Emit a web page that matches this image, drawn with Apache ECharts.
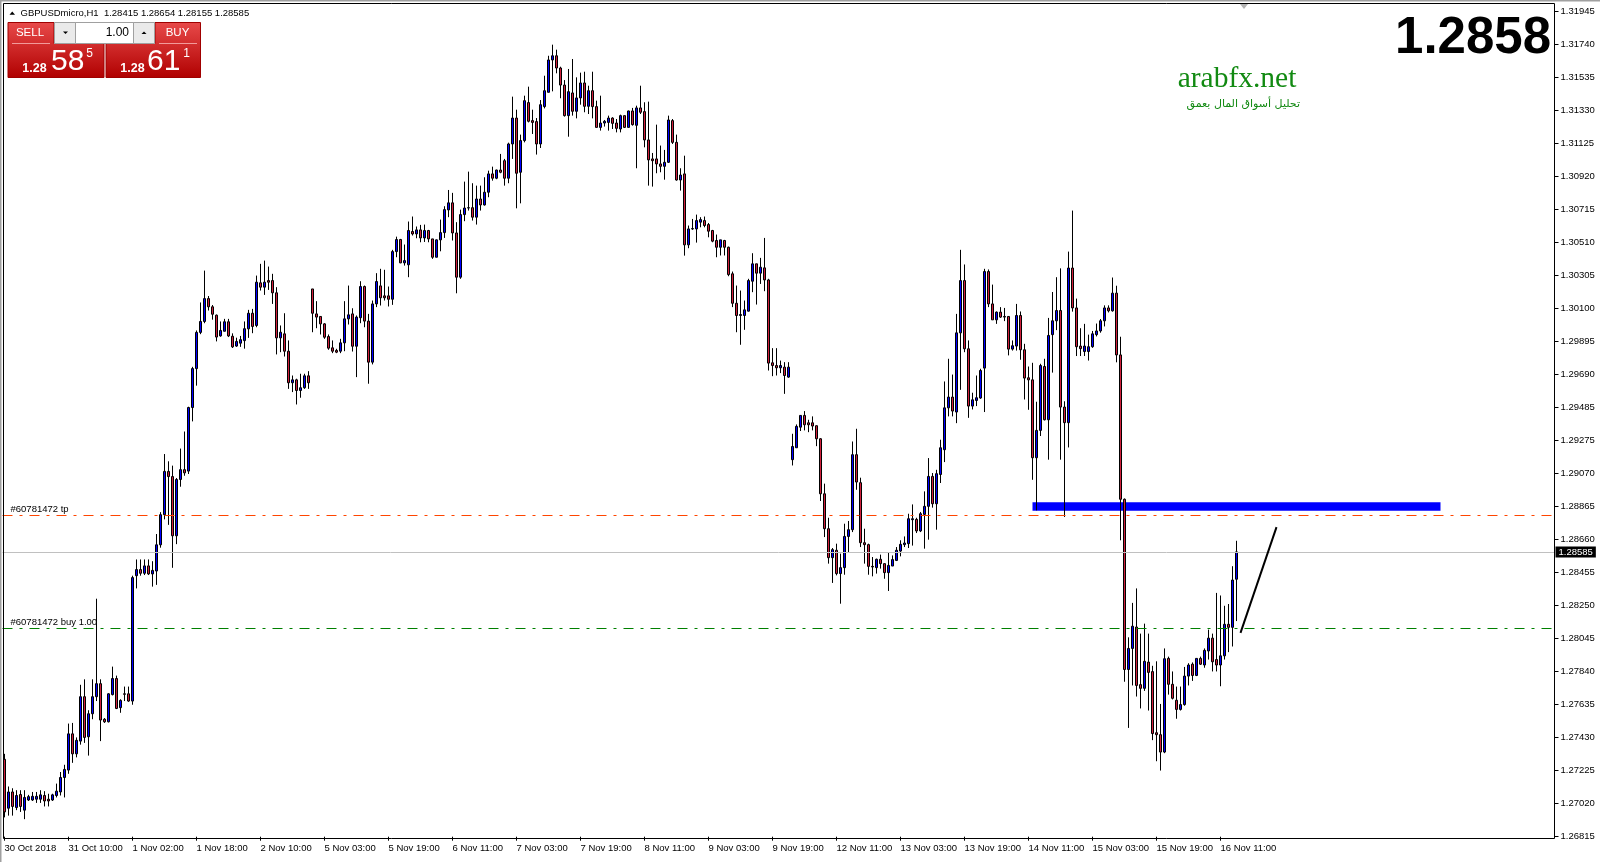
<!DOCTYPE html>
<html><head><meta charset="utf-8">
<script src="https://cdn.jsdelivr.net/npm/echarts@6/dist/echarts.min.js"></script>
<style>html,body{margin:0;padding:0;background:#fff;overflow:hidden}#c{width:1600px;height:862px}</style>
</head><body><div id="c"></div>
<script>
// H1 candles: [open, close, low, high]
const bars = [
[1.27296,1.26969,1.26935,1.27330],[1.26992,1.27093,1.26946,1.27127],[1.27093,1.27003,1.26946,1.27116],[1.26996,1.27071,1.26980,1.27104],
[1.27077,1.27003,1.26969,1.27104],[1.26980,1.27059,1.26924,1.27104],[1.27043,1.27064,1.27037,1.27075],[1.27043,1.27066,1.27037,1.27093],
[1.27048,1.27066,1.27025,1.27093],[1.27048,1.27075,1.27025,1.27104],[1.27071,1.27037,1.27003,1.27098],[1.27048,1.27037,1.27003,1.27082],
[1.27043,1.27075,1.27037,1.27082],[1.27071,1.27098,1.27059,1.27145],[1.27093,1.27183,1.27071,1.27217],[1.27183,1.27233,1.27059,1.27262],
[1.27229,1.27454,1.27206,1.27518],[1.27454,1.27330,1.27274,1.27522],[1.27330,1.27414,1.27308,1.27432],[1.27409,1.27685,1.27387,1.27759],
[1.27685,1.27432,1.27398,1.27793],[1.27436,1.27579,1.27319,1.27601],[1.27579,1.27685,1.27545,1.27793],[1.27685,1.27766,1.27658,1.28294],
[1.27766,1.27540,1.27409,1.27793],[1.27545,1.27529,1.27522,1.27552],[1.27529,1.27703,1.27525,1.27707],[1.27698,1.27798,1.27693,1.27872],
[1.27798,1.27612,1.27608,1.27816],[1.27617,1.27662,1.27585,1.27669],[1.27703,1.27700,1.27658,1.27748],[1.27703,1.27658,1.27653,1.27748],
[1.27658,1.28425,1.27635,1.28437],[1.28437,1.28475,1.28358,1.28538],[1.28475,1.28452,1.28437,1.28538],[1.28452,1.28498,1.28441,1.28538],
[1.28498,1.28448,1.28441,1.28538],[1.28448,1.28470,1.28369,1.28527],[1.28466,1.28629,1.28380,1.28696],[1.28629,1.28816,1.28611,1.28832],
[1.28816,1.29085,1.28787,1.29193],[1.29085,1.29053,1.28753,1.29148],[1.29053,1.28685,1.28486,1.29121],[1.28685,1.29035,1.28633,1.29044],
[1.29035,1.29096,1.28990,1.29227],[1.29096,1.29076,1.29058,1.29333],[1.29087,1.29482,1.29069,1.29487],[1.29482,1.29724,1.29396,1.29735],
[1.29724,1.29949,1.29618,1.29961],[1.29949,1.30017,1.29938,1.30135],[1.30017,1.30159,1.30006,1.30333],[1.30159,1.30108,1.30085,1.30175],
[1.30108,1.30062,1.30028,1.30119],[1.30056,1.29920,1.29893,1.30060],[1.29927,1.29961,1.29922,1.30017],[1.29956,1.30015,1.29956,1.30033],
[1.30015,1.29927,1.29920,1.30033],[1.29925,1.29859,1.29852,1.29943],[1.29864,1.29893,1.29859,1.29916],[1.29882,1.29904,1.29859,1.29927],
[1.29898,1.29972,1.29848,1.30017],[1.29971,1.30068,1.29915,1.30089],[1.30068,1.29986,1.29944,1.30095],[1.29992,1.30261,1.29981,1.30302],
[1.30257,1.30230,1.30209,1.30375],[1.30230,1.30261,1.30182,1.30395],[1.30271,1.30261,1.30213,1.30358],[1.30271,1.30195,1.30126,1.30313],
[1.30195,1.29915,1.29812,1.30230],[1.29915,1.29950,1.29826,1.29992],[1.29940,1.29832,1.29799,1.30068],[1.29832,1.29636,1.29598,1.29899],
[1.29636,1.29654,1.29578,1.29681],[1.29654,1.29588,1.29501,1.29661],[1.29588,1.29605,1.29543,1.29692],[1.29605,1.29679,1.29598,1.29692],
[1.29679,1.29636,1.29598,1.29708],[1.30219,1.30068,1.29950,1.30219],[1.30064,1.30044,1.29975,1.30143],[1.30048,1.30002,1.29936,1.30048],
[1.30002,1.29919,1.29909,1.30006],[1.29923,1.29851,1.29841,1.29936],[1.29853,1.29832,1.29820,1.29899],[1.29837,1.29826,1.29820,1.29847],
[1.29832,1.29884,1.29820,1.29909],[1.29884,1.30033,1.29832,1.30143],[1.30033,1.30058,1.29998,1.30240],[1.30064,1.29863,1.29830,1.30099],
[1.29863,1.30044,1.29671,1.30054],[1.30040,1.30234,1.30006,1.30267],[1.30234,1.30019,1.29981,1.30240],[1.30019,1.29764,1.29630,1.30064],
[1.29764,1.30126,1.29750,1.30147],[1.30126,1.30265,1.30106,1.30317],[1.30238,1.30164,1.30116,1.30344],[1.30176,1.30164,1.30147,1.30338],
[1.30176,1.30155,1.30110,1.30234],[1.30155,1.30451,1.30120,1.30462],[1.30451,1.30526,1.30416,1.30544],[1.30526,1.30381,1.30379,1.30530],
[1.30381,1.30395,1.30364,1.30495],[1.30369,1.30582,1.30292,1.30638],[1.30576,1.30561,1.30551,1.30669],[1.30561,1.30586,1.30534,1.30607],
[1.30586,1.30536,1.30509,1.30617],[1.30536,1.30582,1.30511,1.30619],[1.30582,1.30530,1.30509,1.30586],[1.30530,1.30416,1.30406,1.30530],
[1.30416,1.30524,1.30416,1.30526],[1.30524,1.30569,1.30453,1.30650],[1.30569,1.30712,1.30536,1.30733],[1.30710,1.30754,1.30665,1.30834],
[1.30754,1.30567,1.30520,1.30816],[1.30567,1.30292,1.30192,1.30634],[1.30292,1.30681,1.30282,1.30712],[1.30681,1.30722,1.30640,1.30886],
[1.30722,1.30724,1.30706,1.30948],[1.30724,1.30665,1.30644,1.30876],[1.30665,1.30778,1.30619,1.30861],[1.30778,1.30741,1.30706,1.30861],
[1.30741,1.30820,1.30737,1.30913],[1.30820,1.30934,1.30789,1.30954],[1.30934,1.30907,1.30892,1.30979],[1.30907,1.30958,1.30901,1.30960],
[1.30958,1.30944,1.30938,1.31058],[1.31016,1.30907,1.30861,1.31027],[1.30907,1.31120,1.30876,1.31128],[1.31120,1.31281,1.31027,1.31414],
[1.31281,1.30938,1.30720,1.31333],[1.30944,1.31141,1.30751,1.31178],[1.31141,1.31389,1.31130,1.31420],[1.31377,1.31261,1.31254,1.31476],
[1.31265,1.31254,1.31182,1.31333],[1.31259,1.31120,1.31054,1.31281],[1.31120,1.31364,1.31095,1.31393],[1.31352,1.31451,1.31341,1.31544],
[1.31441,1.31642,1.31441,1.31668],[1.31642,1.31668,1.31447,1.31737],[1.31668,1.31592,1.31559,1.31706],[1.31592,1.31486,1.31404,1.31600],
[1.31486,1.31296,1.31290,1.31517],[1.31296,1.31445,1.31165,1.31586],[1.31437,1.31323,1.31296,1.31648],[1.31323,1.31406,1.31279,1.31534],
[1.31406,1.31499,1.31364,1.31563],[1.31499,1.31354,1.31317,1.31569],[1.31354,1.31451,1.31306,1.31482],[1.31451,1.31352,1.31279,1.31569],
[1.31352,1.31223,1.31223,1.31389],[1.31223,1.31250,1.31203,1.31420],[1.31250,1.31261,1.31228,1.31269],[1.31254,1.31281,1.31203,1.31296],
[1.31281,1.31248,1.31213,1.31286],[1.31250,1.31217,1.31192,1.31275],[1.31213,1.31296,1.31192,1.31302],[1.31296,1.31223,1.31219,1.31296],
[1.31223,1.31325,1.31223,1.31327],[1.31325,1.31240,1.31234,1.31344],[1.31236,1.31344,1.30969,1.31358],[1.31344,1.31317,1.31306,1.31482],
[1.31321,1.31145,1.31099,1.31379],[1.31145,1.31021,1.30861,1.31383],[1.31027,1.31016,1.30855,1.31064],[1.31027,1.30996,1.30938,1.31240],
[1.30996,1.30981,1.30944,1.31110],[1.30981,1.31006,1.30898,1.31083],[1.31006,1.31269,1.31002,1.31296],[1.31265,1.31130,1.31120,1.31275],
[1.31130,1.30896,1.30892,1.31178],[1.30896,1.30927,1.30830,1.30969],[1.30934,1.30493,1.30426,1.31047],[1.30493,1.30592,1.30472,1.30613],
[1.30592,1.30594,1.30586,1.30654],[1.30592,1.30644,1.30507,1.30681],[1.30634,1.30650,1.30602,1.30665],[1.30644,1.30613,1.30602,1.30669],
[1.30619,1.30578,1.30540,1.30629],[1.30582,1.30516,1.30509,1.30586],[1.30520,1.30478,1.30416,1.30557],[1.30478,1.30524,1.30427,1.30524],
[1.30520,1.30478,1.30427,1.30524],[1.30478,1.30308,1.30298,1.30482],[1.30313,1.30130,1.30106,1.30327],[1.30130,1.30054,1.29950,1.30240],
[1.30054,1.30060,1.29872,1.30209],[1.30054,1.30089,1.29965,1.30147],[1.30081,1.30271,1.30079,1.30282],[1.30267,1.30375,1.30199,1.30441],
[1.30375,1.30317,1.30122,1.30375],[1.30317,1.30354,1.30250,1.30412],[1.30350,1.30275,1.30205,1.30536],[1.30275,1.29758,1.29712,1.30282],
[1.29760,1.29743,1.29677,1.29851],[1.29743,1.29729,1.29681,1.29851],[1.29729,1.29743,1.29696,1.29774],[1.29733,1.29681,1.29567,1.29764],
[1.29671,1.29733,1.29667,1.29764],[1.29158,1.29240,1.29122,1.29319],[1.29232,1.29365,1.29232,1.29377],[1.29360,1.29433,1.29336,1.29433],
[1.29433,1.29375,1.29340,1.29460],[1.29387,1.29375,1.29329,1.29406],[1.29387,1.29367,1.29340,1.29427],[1.29369,1.29288,1.29242,1.29371],
[1.29288,1.28946,1.28901,1.29292],[1.28946,1.28729,1.28677,1.29009],[1.28729,1.28549,1.28512,1.28797],[1.28549,1.28599,1.28392,1.28609],
[1.28595,1.28450,1.28439,1.28636],[1.28450,1.28487,1.28263,1.28574],[1.28487,1.28681,1.28443,1.28760],[1.28681,1.28723,1.28578,1.28777],
[1.28723,1.29189,1.28708,1.29271],[1.29189,1.29019,1.28971,1.29350],[1.29015,1.28642,1.28615,1.29046],[1.28642,1.28630,1.28512,1.28729],
[1.28630,1.28495,1.28443,1.28636],[1.28495,1.28491,1.28433,1.28553],[1.28487,1.28539,1.28450,1.28543],[1.28539,1.28512,1.28481,1.28568],
[1.28512,1.28456,1.28418,1.28512],[1.28456,1.28501,1.28342,1.28584],[1.28497,1.28537,1.28497,1.28563],[1.28532,1.28595,1.28528,1.28615],
[1.28590,1.28632,1.28557,1.28657],[1.28630,1.28640,1.28615,1.28681],[1.28636,1.28791,1.28609,1.28822],[1.28785,1.28791,1.28624,1.28880],
[1.28787,1.28715,1.28702,1.28797],[1.28715,1.28822,1.28708,1.28833],[1.28818,1.28868,1.28605,1.28961],[1.28868,1.29054,1.28661,1.29168],
[1.29054,1.28884,1.28860,1.29075],[1.28884,1.29071,1.28723,1.29095],[1.29066,1.29232,1.29013,1.29282],[1.29220,1.29480,1.29143,1.29644],
[1.29480,1.29547,1.29427,1.29785],[1.29547,1.29460,1.29427,1.29687],[1.29454,1.29946,1.29385,1.30064],[1.29946,1.30271,1.29592,1.30462],
[1.30271,1.29847,1.29826,1.30371],[1.29847,1.29491,1.29418,1.29899],[1.29491,1.29530,1.29470,1.29574],[1.29526,1.29543,1.29491,1.29681],
[1.29541,1.29712,1.29536,1.29723],[1.29727,1.30327,1.29454,1.30344],[1.30327,1.30126,1.30106,1.30340],[1.30126,1.30027,1.30027,1.30246],
[1.30027,1.30075,1.30002,1.30079],[1.30075,1.30044,1.30039,1.30106],[1.30044,1.30048,1.30019,1.30101],[1.30048,1.29845,1.29806,1.30048],
[1.29845,1.29866,1.29836,1.29899],[1.29864,1.30054,1.29836,1.30126],[1.30054,1.29841,1.29779,1.30079],[1.29841,1.29665,1.29532,1.29878],
[1.29667,1.29654,1.29468,1.29737],[1.29654,1.29170,1.29033,1.29760],[1.29170,1.29340,1.28843,1.29518],[1.29340,1.29743,1.29305,1.29754],
[1.29737,1.29406,1.29402,1.29785],[1.29406,1.29930,1.29158,1.30039],[1.29935,1.30021,1.29699,1.30200],[1.30021,1.30085,1.29963,1.30292],
[1.30085,1.29485,1.29158,1.30347],[1.29485,1.29388,1.28802,1.29521],[1.29388,1.30349,1.29234,1.30451],[1.30349,1.30101,1.30078,1.30706],
[1.30101,1.29860,1.29802,1.30159],[1.29864,1.29848,1.29802,1.29975],[1.29830,1.29864,1.29802,1.30002],[1.29830,1.29860,1.29774,1.29935],
[1.29860,1.29940,1.29853,1.29958],[1.29935,1.29958,1.29924,1.30004],[1.29958,1.30021,1.29947,1.30032],[1.30021,1.30101,1.29986,1.30117],
[1.30101,1.30083,1.30073,1.30117],[1.30083,1.30193,1.30078,1.30290],[1.30193,1.29809,1.29763,1.30239],[1.29809,1.28912,1.28657,1.29922],
[1.28912,1.27854,1.27778,1.28917],[1.27854,1.27985,1.27491,1.28054],[1.27985,1.28123,1.27755,1.28268],[1.28118,1.27755,1.27686,1.28358],
[1.27760,1.27737,1.27612,1.28077],[1.27737,1.27905,1.27721,1.28139],[1.27900,1.27836,1.27599,1.28077],[1.27841,1.27456,1.27415,1.27877],
[1.27461,1.27449,1.27284,1.27905],[1.27449,1.27341,1.27226,1.27640],[1.27341,1.27921,1.27334,1.27985],[1.27923,1.27762,1.27698,1.27934],
[1.27762,1.27675,1.27668,1.27842],[1.27663,1.27606,1.27548,1.27748],[1.27606,1.27636,1.27599,1.27748],[1.27636,1.27813,1.27629,1.27870],
[1.27813,1.27882,1.27755,1.27893],[1.27887,1.27817,1.27783,1.27898],[1.27817,1.27923,1.27813,1.27923],[1.27923,1.27887,1.27882,1.27934],
[1.27882,1.27973,1.27865,1.27985],[1.27969,1.28049,1.27916,1.28102],[1.28049,1.27902,1.27842,1.28077],[1.27916,1.27882,1.27842,1.28330],
[1.27882,1.27939,1.27750,1.28314],[1.27939,1.28135,1.27916,1.28250],[1.28135,1.28116,1.27962,1.28261],[1.28116,1.28410,1.27997,1.28496],
[1.28415,1.28585,1.28155,1.28654]
];

const xTickLabels = ['30 Oct 2018','31 Oct 10:00','1 Nov 02:00','1 Nov 18:00','2 Nov 10:00','5 Nov 03:00','5 Nov 19:00','6 Nov 11:00','7 Nov 03:00','7 Nov 19:00','8 Nov 11:00','9 Nov 03:00','9 Nov 19:00','12 Nov 11:00','13 Nov 03:00','13 Nov 19:00','14 Nov 11:00','15 Nov 03:00','15 Nov 19:00','16 Nov 11:00'];
const xTickEvery = 16;
const yTickLabels = ['1.26815','1.27020','1.27225','1.27430','1.27635','1.27840','1.28045','1.28250','1.28455','1.28660','1.28865','1.29070','1.29275','1.29485','1.29690','1.29895','1.30100','1.30305','1.30510','1.30715','1.30920','1.31125','1.31330','1.31535','1.31740','1.31945'];
const priceMin = 1.26815, priceMax = 1.31945;
const totalSlots = 388;

const currentPrice = 1.28585;
const lastBarOHLC = ['1.28415','1.28654','1.28155','1.28585'];
const tpLevel = 1.28813;
const buyLevel = 1.28111;
const zoneBars = [257, 359];
const zonePrices = [1.28893, 1.28840];
const trendLine = [[309, 1.28082], [318, 1.28739]];

const categories = Array.from({length: totalSlots}, (_, i) => String(i));
const FONT = '"Liberation Sans", Arial, sans-serif';
const redGrad = {type:'linear',x:0,y:0,x2:0,y2:1,colorStops:[{offset:0,color:'#E84A4A'},{offset:1,color:'#B00000'}]};

const chart = echarts.init(document.getElementById('c'), null, {renderer:'canvas'});
chart.setOption({
  animation: false,
  backgroundColor: '#ffffff',
  grid: {left: 2.5, right: 45.5, top: 11.2, bottom: 25.3, containLabel: false},
  xAxis: {
    type: 'category', data: categories, boundaryGap: true, offset: 2,
    axisLine: {show: false},
    axisTick: {show: true, alignWithLabel: true, length: 4, lineStyle: {color: '#000'},
      interval: (i) => i % xTickEvery === 0 && i / xTickEvery < xTickLabels.length},
    axisLabel: {show: true, align: 'left', margin: 5, color: '#000', fontFamily: FONT, fontSize: 9.5,
      interval: (i) => i % xTickEvery === 0 && i / xTickEvery < xTickLabels.length,
      formatter: (v, i) => xTickLabels[i / xTickEvery] || ''},
    splitLine: {show: false}
  },
  yAxis: [
    {type: 'value', min: priceMin, max: priceMax, show: false, scale: true},
    {type: 'value', position: 'right', min: 0, max: yTickLabels.length - 1, interval: 1,
      axisLine: {show: false},
      axisTick: {show: true, length: 4, lineStyle: {color: '#000'}},
      axisLabel: {margin: 6, color: '#000', fontFamily: FONT, fontSize: 9.5,
        formatter: (v) => yTickLabels[Math.round(v)] || ''},
      splitLine: {show: false}}
  ],
  series: [{
    type: 'candlestick', yAxisIndex: 0, barWidth: 2,
    data: bars,
    itemStyle: {color: '#0000FF', color0: '#D01F3C', borderColor: '#000', borderColor0: '#000', borderColorDoji: '#000', borderWidth: 1},
    emphasis: {disabled: true},
    markArea: {silent: true, itemStyle: {color: '#0000FF', opacity: 1},
      data: [[{coord: [zoneBars[0], zonePrices[0]]}, {coord: [zoneBars[1], zonePrices[1]]}]]},
    markLine: {
      silent: true, symbol: ['none', 'none'], precision: 5,
      data: [
        {yAxis: currentPrice, lineStyle: {color: '#C0C0C0', type: 'solid', width: 1},
          label: {show: true, position: 'end', formatter: currentPrice.toFixed(5), distance: 1,
            backgroundColor: '#000', color: '#fff', padding: [1, 3, 0, 3], fontFamily: FONT, fontSize: 9.5}},
        {yAxis: tpLevel, lineStyle: {color: '#FF4500', type: [10, 7, 3, 7], width: 1},
          label: {show: true, position: 'insideStartTop', formatter: '#60781472 tp', distance: [8, 1],
            color: '#000', fontFamily: FONT, fontSize: 9.5}},
        {yAxis: buyLevel, lineStyle: {color: '#008000', type: [10, 7, 3, 7], width: 1},
          label: {show: true, position: 'insideStartTop', formatter: '#60781472 buy 1.00', distance: [8, 1],
            color: '#000', fontFamily: FONT, fontSize: 9.5}},
        [{coord: trendLine[0], lineStyle: {color: '#000', type: 'solid', width: 2}, label: {show: false}},
         {coord: trendLine[1]}]
      ]
    }
  }],
  graphic: {elements: [
    {type: 'rect', shape: {x: 0, y: 0, width: 1600, height: 1.5}, style: {fill: '#A0A0A0'}, z: 20, silent: true},
    {type: 'rect', shape: {x: 0, y: 0, width: 1.5, height: 862}, style: {fill: '#A0A0A0'}, z: 20, silent: true},
    {type: 'rect', shape: {x: 3.5, y: 3.5, width: 1551, height: 835}, style: {fill: null, stroke: '#000', lineWidth: 1}, z: 20, silent: true},
    {type: 'polygon', shape: {points: [[1240, 4], [1248, 4], [1244, 9]]}, style: {fill: '#B4B4B4'}, z: 21, silent: true},
    // header
    {type: 'polygon', shape: {points: [[9.5, 14.7], [15, 14.7], [12.25, 11.5]]}, style: {fill: '#000'}, z: 21, silent: true},
    {type: 'text', style: {text: 'GBPUSDmicro,H1  ' + lastBarOHLC.join(' '), x: 20.5, y: 13.3, fill: '#000', font: '9.5px ' + FONT, verticalAlign: 'middle', align: 'left'}, z: 21, silent: true},
    // one-click panel
    {type: 'polygon', shape: {points: [[8, 22.5], [54, 22.5], [54, 43.5], [104, 43.5], [104, 77.5], [8, 77.5]]}, style: {fill: redGrad, stroke: '#A00000', lineWidth: 1}, z: 21, silent: true},
    {type: 'polygon', shape: {points: [[155, 22.5], [200.5, 22.5], [200.5, 77.5], [106, 77.5], [106, 43.5], [155, 43.5]]}, style: {fill: redGrad, stroke: '#A00000', lineWidth: 1}, z: 21, silent: true},
    {type: 'line', shape: {x1: 12, y1: 43.5, x2: 50, y2: 43.5}, style: {stroke: '#F29A9A', lineWidth: 1}, z: 22, silent: true},
    {type: 'line', shape: {x1: 159, y1: 43.5, x2: 197, y2: 43.5}, style: {stroke: '#F29A9A', lineWidth: 1}, z: 22, silent: true},
    {type: 'rect', shape: {x: 54.5, y: 22.5, width: 100, height: 21}, style: {fill: '#fff', stroke: '#A0A0A0', lineWidth: 1}, z: 22, silent: true},
    {type: 'rect', shape: {x: 54.5, y: 22.5, width: 21, height: 21}, style: {fill: '#EAEAEA', stroke: '#A0A0A0', lineWidth: 1}, z: 23, silent: true},
    {type: 'rect', shape: {x: 133.5, y: 22.5, width: 21, height: 21}, style: {fill: '#EAEAEA', stroke: '#A0A0A0', lineWidth: 1}, z: 23, silent: true},
    {type: 'polygon', shape: {points: [[63, 31.5], [68, 31.5], [65.5, 34]]}, style: {fill: '#000'}, z: 24, silent: true},
    {type: 'polygon', shape: {points: [[141.5, 34], [146.5, 34], [144, 31.5]]}, style: {fill: '#000'}, z: 24, silent: true},
    {type: 'text', style: {text: '1.00', x: 129, y: 32.5, fill: '#000', font: '12px ' + FONT, align: 'right', verticalAlign: 'middle'}, z: 24, silent: true},
    {type: 'text', style: {text: 'SELL', x: 30, y: 32.5, fill: '#fff', font: '11.5px ' + FONT, align: 'center', verticalAlign: 'middle'}, z: 24, silent: true},
    {type: 'text', style: {text: 'BUY', x: 177.5, y: 32.5, fill: '#fff', font: '11.5px ' + FONT, align: 'center', verticalAlign: 'middle'}, z: 24, silent: true},
    {type: 'text', style: {text: '1.28', x: 34.5, y: 68.5, fill: '#fff', font: 'bold 12.5px ' + FONT, align: 'center', verticalAlign: 'middle'}, z: 24, silent: true},
    {type: 'text', style: {text: '58', x: 51, y: 61.5, fill: '#fff', font: '30px ' + FONT, align: 'left', verticalAlign: 'middle'}, z: 24, silent: true},
    {type: 'text', style: {text: '5', x: 89.5, y: 53.5, fill: '#fff', font: '12px ' + FONT, align: 'center', verticalAlign: 'middle'}, z: 24, silent: true},
    {type: 'text', style: {text: '1.28', x: 132.5, y: 68.5, fill: '#fff', font: 'bold 12.5px ' + FONT, align: 'center', verticalAlign: 'middle'}, z: 24, silent: true},
    {type: 'text', style: {text: '61', x: 147, y: 61.5, fill: '#fff', font: '30px ' + FONT, align: 'left', verticalAlign: 'middle'}, z: 24, silent: true},
    {type: 'text', style: {text: '1', x: 186.5, y: 53.5, fill: '#fff', font: '12px ' + FONT, align: 'center', verticalAlign: 'middle'}, z: 24, silent: true},
    // big price
    {type: 'text', style: {text: currentPrice.toFixed(4), x: 1551, y: 39, fill: '#000', font: 'bold 51px ' + FONT, align: 'right', verticalAlign: 'middle'}, z: 24, silent: true},
    // watermark
    {type: 'text', style: {text: 'arabfx.net', x: 1237, y: 79, fill: '#128A12', font: '29.5px "Liberation Serif", "DejaVu Serif", serif', align: 'center', verticalAlign: 'middle'}, z: 24, silent: true},
    {type: 'text', style: {text: 'تحليل أسواق المال بعمق', x: 1300, y: 104, fill: '#128A12', font: '11px "DejaVu Sans", sans-serif', align: 'right', verticalAlign: 'middle'}, z: 24, silent: true}
  ]}
});
</script>
</body></html>
